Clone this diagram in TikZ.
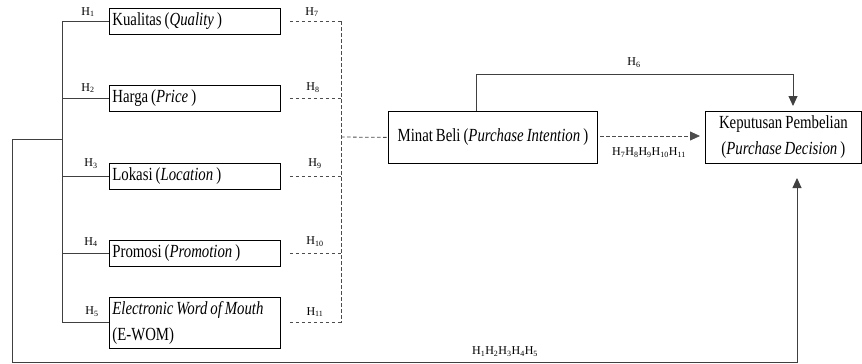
\documentclass[tikz,border=0pt]{standalone}
\usepackage{fontspec}
\setmainfont[FakeStretch=0.8,WordSpace=0.8]{Liberation Serif}
\newfontfamily\lblfont{Liberation Serif}
\usetikzlibrary{arrows.meta}
\begin{document}
\begin{tikzpicture}[x=1pt,y=-1pt,
  box/.style={draw=black, line width=0.8pt, inner xsep=3pt, inner ysep=0pt, font=\fontsize{18.5}{26}\selectfont},
  lbox/.style={box, anchor=west, text width=165pt, align=flush left, minimum height=26pt},
  hl/.style={font=\lblfont\fontsize{12}{13}\selectfont, inner sep=0pt},
  solidln/.style={draw=black!75, line width=0.9pt},
  dashln/.style={draw=black!70, line width=0.8pt, dash pattern=on 3.5pt off 2.5pt},
  tip/.style={-{Triangle[length=10pt,width=9pt]}}]
\useasboundingbox (0,0) rectangle (862,364);

% left boxes
\node[lbox] (kual) at (109,21) {Kualitas (\textit{Quality}\,)};
\node[lbox] (harga) at (109,98.5) {Harga (\textit{Price}\,)};
\node[lbox] (lok) at (109,176) {Lokasi (\textit{Location}\,)};
\node[lbox] (promo) at (109,253) {Promosi (\textit{Promotion}\,)};
\node[lbox, minimum height=51pt] (ewom) at (109,322.5) {\textit{Electronic Word of Mouth}\\(E-WOM)};

% middle and right boxes
\node[box, anchor=north west, minimum width=209pt, minimum height=52pt] (minat) at (388,111) {Minat Beli (\textit{Purchase Intention}\,)};
\node[box, anchor=north west, minimum width=156pt, minimum height=52pt, align=center] (kep) at (705,111) {Keputusan Pembelian\\(\textit{Purchase Decision}\,)};

% coordinates
\coordinate (bt) at (62,21);
\coordinate (bm) at (62,139);
\coordinate (ol) at (12,139);
\coordinate (obl) at (12,362);
\coordinate (obr) at (797,362);
\coordinate (otip) at (797,178);
\coordinate (dv) at (341,21);
\coordinate (dvb) at (341,322.5);
\coordinate (dm) at (341,137);
\coordinate (h6a) at (476,111);
\coordinate (h6b) at (476,74);
\coordinate (h6c) at (793,74);
\coordinate (h6d) at (793,106);
\coordinate (da) at (600,136);
\coordinate (db) at (700,136);

% left bracket
\draw[solidln] (bt) -- (ewom.west -| bt);
\foreach \n in {kual,harga,lok,promo,ewom}
  \draw[solidln] (\n.west -| bt) -- (\n.west);
\draw[solidln, tip] (bm) -- (ol) -- (obl) -- (obr) -- (otip);

% dashed connectors
\foreach \n in {kual,harga,lok,promo,ewom}
  \draw[dashln] ([xshift=9pt]\n.east) -- (\n.east -| dv);
\draw[dashln] (dv) -- (dvb);
\draw[dashln] (dm) -- (minat.west);
\draw[dashln, tip] (da) -- (db);

% H6 path
\draw[solidln, tip] (h6a) -- (h6b) -- (h6c) -- (h6d);

% labels
\node[hl] (l1) at (88,12) {H\textsubscript{1}};
\node[hl] (l2) at (88,88) {H\textsubscript{2}};
\node[hl] (l3) at (91,164) {H\textsubscript{3}};
\node[hl] (l4) at (91,242) {H\textsubscript{4}};
\node[hl] (l5) at (92,312) {H\textsubscript{5}};
\node[hl] (l7) at (312,12) {H\textsubscript{7}};
\node[hl] (l8) at (313,88) {H\textsubscript{8}};
\node[hl] (l9) at (315,164) {H\textsubscript{9}};
\node[hl] (l10) at (315,242) {H\textsubscript{10}};
\node[hl] (l11) at (315,312) {H\textsubscript{11}};
\node[hl] (l6) at (634,63) {H\textsubscript{6}};
\node[hl] (lmid) at (649,153) {H\textsubscript{7}H\textsubscript{8}H\textsubscript{9}H\textsubscript{10}H\textsubscript{11}};
\node[hl] (lbot) at (505,352) {H\textsubscript{1}H\textsubscript{2}H\textsubscript{3}H\textsubscript{4}H\textsubscript{5}};
\end{tikzpicture}
\end{document}
